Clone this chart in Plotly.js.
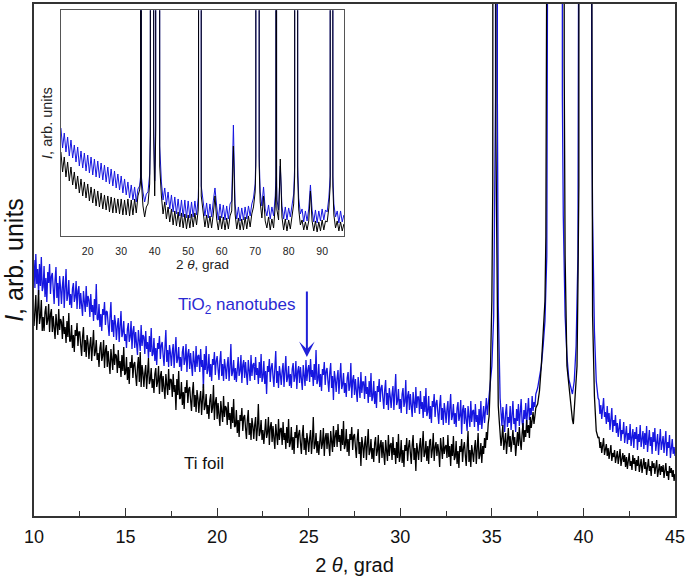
<!DOCTYPE html>
<html>
<head>
<meta charset="utf-8">
<script src="https://cdn.plot.ly/plotly-3.0.1.min.js"></script>
<style>html,body{margin:0;padding:0;background:#fff;}#chart{width:685px;height:585px;}</style>
</head>
<body>
<div id="chart"></div>
<script>
// ---------- main panel: 2θ (deg), background region ----------
const mainX = [
10,10.05,10.1,10.15,10.2,10.25,10.3,10.35,10.4,10.45,
10.5,10.55,10.6,10.65,10.7,10.75,10.8,10.85,10.9,10.95,
11,11.05,11.1,11.15,11.2,11.25,11.3,11.35,11.4,11.45,
11.5,11.55,11.6,11.65,11.7,11.75,11.8,11.85,11.9,11.95,
12,12.05,12.1,12.15,12.2,12.25,12.3,12.35,12.4,12.45,
12.5,12.55,12.6,12.65,12.7,12.75,12.8,12.85,12.9,12.95,
13,13.05,13.1,13.15,13.2,13.25,13.3,13.35,13.4,13.45,
13.5,13.55,13.6,13.65,13.7,13.75,13.8,13.85,13.9,13.95,
14,14.05,14.1,14.15,14.2,14.25,14.3,14.35,14.4,14.45,
14.5,14.55,14.6,14.65,14.7,14.75,14.8,14.85,14.9,14.95,
15,15.05,15.1,15.15,15.2,15.25,15.3,15.35,15.4,15.45,
15.5,15.55,15.6,15.65,15.7,15.75,15.8,15.85,15.9,15.95,
16,16.05,16.1,16.15,16.2,16.25,16.3,16.35,16.4,16.45,
16.5,16.55,16.6,16.65,16.7,16.75,16.8,16.85,16.9,16.95,
17,17.05,17.1,17.15,17.2,17.25,17.3,17.35,17.4,17.45,
17.5,17.55,17.6,17.65,17.7,17.75,17.8,17.85,17.9,17.95,
18,18.05,18.1,18.15,18.2,18.25,18.3,18.35,18.4,18.45,
18.5,18.55,18.6,18.65,18.7,18.75,18.8,18.85,18.9,18.95,
19,19.05,19.1,19.15,19.2,19.25,19.3,19.35,19.4,19.45,
19.5,19.55,19.6,19.65,19.7,19.75,19.8,19.85,19.9,19.95,
20,20.05,20.1,20.15,20.2,20.25,20.3,20.35,20.4,20.45,
20.5,20.55,20.6,20.65,20.7,20.75,20.8,20.85,20.9,20.95,
21,21.05,21.1,21.15,21.2,21.25,21.3,21.35,21.4,21.45,
21.5,21.55,21.6,21.65,21.7,21.75,21.8,21.85,21.9,21.95,
22,22.05,22.1,22.15,22.2,22.25,22.3,22.35,22.4,22.45,
22.5,22.55,22.6,22.65,22.7,22.75,22.8,22.85,22.9,22.95,
23,23.05,23.1,23.15,23.2,23.25,23.3,23.35,23.4,23.45,
23.5,23.55,23.6,23.65,23.7,23.75,23.8,23.85,23.9,23.95,
24,24.05,24.1,24.15,24.2,24.25,24.3,24.35,24.4,24.45,
24.5,24.55,24.6,24.65,24.7,24.75,24.8,24.85,24.9,24.95,
25,25.05,25.1,25.15,25.2,25.25,25.3,25.35,25.4,25.45,
25.5,25.55,25.6,25.65,25.7,25.75,25.8,25.85,25.9,25.95,
26,26.05,26.1,26.15,26.2,26.25,26.3,26.35,26.4,26.45,
26.5,26.55,26.6,26.65,26.7,26.75,26.8,26.85,26.9,26.95,
27,27.05,27.1,27.15,27.2,27.25,27.3,27.35,27.4,27.45,
27.5,27.55,27.6,27.65,27.7,27.75,27.8,27.85,27.9,27.95,
28,28.05,28.1,28.15,28.2,28.25,28.3,28.35,28.4,28.45,
28.5,28.55,28.6,28.65,28.7,28.75,28.8,28.85,28.9,28.95,
29,29.05,29.1,29.15,29.2,29.25,29.3,29.35,29.4,29.45,
29.5,29.55,29.6,29.65,29.7,29.75,29.8,29.85,29.9,29.95,
30,30.05,30.1,30.15,30.2,30.25,30.3,30.35,30.4,30.45,
30.5,30.55,30.6,30.65,30.7,30.75,30.8,30.85,30.9,30.95,
31,31.05,31.1,31.15,31.2,31.25,31.3,31.35,31.4,31.45,
31.5,31.55,31.6,31.65,31.7,31.75,31.8,31.85,31.9,31.95,
32,32.05,32.1,32.15,32.2,32.25,32.3,32.35,32.4,32.45,
32.5,32.55,32.6,32.65,32.7,32.75,32.8,32.85,32.9,32.95,
33,33.05,33.1,33.15,33.2,33.25,33.3,33.35,33.4,33.45,
33.5,33.55,33.6,33.65,33.7,33.75,33.8,33.85,33.9,33.95,
34,34.05,34.1,34.15,34.2,34.25,34.3,34.35,34.4,34.45,
34.5,34.55,34.6,34.65,34.7,34.75,34.8,34.85];

const tio2Base = [
256,228,262,232,247,221,252,230,259,225,
229,250,219,238,214,244,233,252,222,240,
243,226,212,236,249,218,233,210,240,228,
212,230,240,208,226,247,215,221,236,211,
222,208,227,233,214,219,235,207,225,230,
207,223,211,200,225,217,204,230,209,220,
216,199,222,204,211,195,217,201,232,197,
196,212,189,202,185,207,201,214,191,205,
204,191,180,199,214,184,196,179,201,193,
176,190,198,174,187,205,179,183,195,175,
182,168,187,193,174,179,195,167,185,190,
168,184,172,161,186,178,165,191,170,181,
179,162,185,167,174,158,180,164,188,160,
162,178,155,168,151,173,167,180,157,171,
174,161,150,169,186,154,166,149,171,163,
150,164,172,148,161,179,153,157,169,149,
159,145,164,170,151,156,172,144,162,167,
147,163,151,140,165,157,144,170,149,160,
161,144,167,149,156,128,162,146,170,142,
146,162,139,152,135,157,151,164,141,155,
160,147,136,155,165,140,152,135,157,149,
137,151,159,135,148,172,140,144,156,136,
148,134,153,159,140,145,161,133,151,156,
138,154,142,131,156,148,135,161,140,151,
153,136,159,141,148,132,154,138,162,134,
139,155,132,145,122,150,144,157,134,148,
153,140,129,148,165,133,145,128,150,142,
131,145,153,129,142,160,134,138,150,130,
142,128,147,153,134,139,155,127,145,150,
133,149,137,126,151,143,130,156,135,146,
151,134,157,139,146,130,152,136,166,132,
136,152,129,142,125,147,141,154,131,145,
148,135,124,143,153,128,140,116,145,137,
124,138,146,122,135,153,127,131,143,123,
133,119,138,144,125,130,153,118,136,141,
121,137,125,114,139,131,118,144,123,134,
134,117,140,122,129,113,135,119,143,115,
119,135,112,125,108,130,124,137,114,128,
131,118,107,126,136,111,123,106,128,120,
108,122,130,106,119,142,111,115,127,107,
117,103,122,128,109,114,136,102,120,125,
106,122,110,99,124,116,103,129,108,119,
119,102,125,107,114,98,120,104,128,100,
104,120,97,110,93,115,109,122,99,113,
116,103,92,111,121,96,108,91,113,105,
93,107,115,91,104,122,96,100,112,92,
103,89,108,114,95,100,116,82,106,111,
92,108,96,85,110,102,89,115,94,105,
106,89,112,94,101,85,107,91,115,87,
96,110,93,104,118,101,112,122];

const tiBase = [
190,210,221,186,205,226,192,199,216,185,
199,185,204,210,191,196,212,184,202,207,
184,200,188,177,202,194,181,207,186,197,
194,177,200,182,189,173,195,179,203,175,
175,191,168,181,164,186,180,193,170,184,
184,171,160,179,189,164,176,159,181,173,
157,171,179,155,168,186,160,164,176,156,
163,149,168,174,155,160,176,148,166,171,
149,165,153,142,167,159,146,172,151,162,
160,143,166,148,155,139,161,145,169,141,
143,159,136,149,132,154,148,161,138,152,
154,141,130,149,159,134,164,129,151,143,
129,143,151,127,140,158,132,136,148,128,
137,123,142,148,129,134,150,122,140,145,
124,140,128,117,142,134,121,147,126,137,
136,119,142,124,131,106,137,121,145,117,
118,134,111,124,107,129,123,136,113,127,
129,116,105,124,134,109,121,104,126,118,
103,117,125,101,114,132,106,110,122,102,
111,97,116,122,103,108,131,96,114,119,
97,113,101,90,115,107,94,120,99,110,
108,91,114,96,103,87,109,93,117,89,
90,106,83,96,79,101,95,108,85,99,
101,88,77,96,106,81,93,76,98,90,
77,91,99,75,88,112,80,84,96,76,
86,72,91,97,78,83,99,71,89,94,
74,90,78,67,92,84,71,97,76,87,
88,71,94,76,83,67,89,73,97,69,
73,89,66,79,62,84,78,91,68,82,
86,73,62,81,91,66,78,61,83,75,
64,78,86,62,75,99,67,71,83,63,
75,61,80,86,67,72,88,60,78,83,
67,83,71,60,85,77,64,90,69,80,
86,69,92,74,81,65,87,71,95,67,
71,87,64,77,60,82,76,89,66,80,
82,69,58,77,87,62,74,50,79,71,
58,72,80,56,69,87,61,65,77,57,
68,54,73,79,60,65,81,53,71,76,
58,74,62,51,76,68,55,81,60,71,
73,56,79,61,68,52,74,58,82,54,
60,76,53,66,49,71,65,78,55,69,
76,63,52,71,81,56,68,45,73,65,
56,70,78,54,67,85,59,63,75,55,
70,52,75,77,58,66,83,55,69,74,
60,72,64,49,78,66,57,79,62,69,
71,58,81,59,70,50,72,60,80,56,
59,75,52,65,48,70,64,77,54,68,
74,61,50,69,85,54,66,49,71,63,
54,68,76,52,65,83,57,61,73,53,
70,62,78,68,84,76,92,100];

// ---------- main panel: reflections region (peaks run far above the frame) ----------
const tio2PeakX = [34.9,35.0,35.1,35.2,35.25,35.3,35.35,35.4,
35.45,35.5,35.55,35.6,35.65,35.7,35.75,35.8,35.85,35.9,
35.95,36.0,36.05,36.1,36.15,36.2,36.25,36.3,36.35,36.4,
36.45,36.5,36.55,36.6,36.65,36.7,36.75,36.8,36.85,36.9,
36.95,37.0,37.05,37.1,37.15,37.2,37.25,37.3,37.35,37.4,
37.5,37.6,37.7,37.8,37.9,38.0,38.05,38.1,38.8,38.85,38.9,39.0,39.1,39.2,39.3,39.4,39.5,39.6,39.7,39.75,39.8,40.4,40.45,40.5,40.6,40.7,40.8];
const tio2PeakY = [128,150,200,420,6000,420,210,150,
118,104,90,109,96,84,103,112,89,99,
93,110,86,101,115,92,98,84,107,95,
112,90,100,117,94,88,106,97,113,92,
104,118,96,108,101,120,105,114,109,122,
128,138,150,170,195,260,420,6000,6000,420,300,200,160,137,128,122,135,170,260,420,6000,6000,420,300,185,135,118];

const tiPeakX = [34.9,35.0,35.05,35.1,35.18,35.22,35.3,35.35,35.4,
35.45,35.5,35.55,35.6,35.65,35.7,35.75,35.8,35.85,35.9,
35.95,36.0,36.05,36.1,36.15,36.2,36.25,36.3,36.35,36.4,
36.45,36.5,36.55,36.6,36.65,36.7,36.75,36.8,36.85,36.9,
36.95,37.0,37.05,37.1,37.15,37.2,37.25,37.3,37.35,37.4,
37.5,37.6,37.7,37.8,37.9,37.95,38.0,38.05,38.9,38.95,39.0,39.1,39.2,39.3,39.35,39.4,39.45,39.5,39.55,39.6,39.65,39.7,39.75,39.8,40.4,40.45,40.5,40.6,40.7,40.8];
const tiPeakY = [126,216,330,6000,6000,380,160,110,96,
84,70,79,91,66,75,83,62,77,88,
69,80,64,74,86,71,79,60,76,84,
70,89,75,66,82,93,74,86,79,96,
83,91,78,99,88,95,104,92,101,108,
112,125,150,183,215,280,440,6000,6000,450,260,150,130,118,105,96,92,108,116,140,150,230,330,6000,6000,330,200,120,85,78];

const tailX = [
40.85,40.9,40.95,41,41.05,41.1,41.15,41.2,41.25,41.3,
41.35,41.4,41.45,41.5,41.55,41.6,41.65,41.7,41.75,41.8,
41.85,41.9,41.95,42,42.05,42.1,42.15,42.2,42.25,42.3,
42.35,42.4,42.45,42.5,42.55,42.6,42.65,42.7,42.75,42.8,
42.85,42.9,42.95,43,43.05,43.1,43.15,43.2,43.25,43.3,
43.35,43.4,43.45,43.5,43.55,43.6,43.65,43.7,43.75,43.8,
43.85,43.9,43.95,44,44.05,44.1,44.15,44.2,44.25,44.3,
44.35,44.4,44.45,44.5,44.55,44.6,44.65,44.7,44.75,44.8,
44.85,44.9,44.95,45];
const tio2Tail = [
116,102,111,97,106,118,99,104,92,110,
94,103,86,99,108,84,96,90,101,83,
93,79,88,97,75,86,82,94,73,87,
90,72,83,76,92,70,81,87,68,84,
77,89,66,82,74,91,69,80,85,67,
83,71,90,64,78,86,70,79,62,84,
74,88,65,77,82,61,73,87,66,76,
80,63,72,85,60,74,68,81,58,71,
77,62,69,60];
const tiTail = [
79,68,74,63,70,78,61,67,72,60,
68,57,64,71,55,63,59,66,53,62,
65,52,60,67,50,58,63,54,61,49,
59,47,57,63,50,55,46,61,52,58,
45,56,50,60,44,53,57,43,51,58,
47,54,41,52,57,45,50,40,55,48,
53,42,49,56,39,47,52,41,50,44,
51,38,47,53,40,45,36,50,43,48,
39,46,35,42];

// ---------- inset: full scan ----------
const insetX = [12,12.5,13,13.5,14,14.5,15,15.5,16,16.5,17,17.5,18,18.5,19,19.5,20,20.5,21,21.5,22,22.5,23,23.5,24,24.5,25,25.5,26,26.5,27,27.5,28,28.5,29,29.5,30,30.5,31,31.5,32,32.5,33,33.5,34,34.5,35,35.5,
35.8,35.9,36.0,
36.5,37,37.5,38,38.5,
38.7,38.8,39.6,39.7,
40.0,40.3,40.5,41.3,41.5,
42,42.5,43,43.5,44,44.5,45,45.5,46,46.5,47,47.5,48,48.5,49,49.5,50,50.5,51,51.5,52,52.5,53,
53.1,53.2,53.8,53.9,
54.5,55,55.5,56,56.5,57,57.5,58,58.5,59,59.5,60,60.5,61,61.5,62,62.5,63,63.5,64,64.5,65,65.5,66,66.5,67,67.5,68,68.5,69,69.5,70,
70.2,70.3,71.1,71.2,
71.5,72,72.5,73,73.5,74,74.5,75,75.5,76,
76.2,76.3,76.4,
76.5,77,77.5,78,78.5,79,79.5,80,80.5,81,81.5,
81.8,81.9,82.6,82.7,
83,83.5,84,84.5,85,85.5,86,86.5,87,87.5,88,88.5,89,89.5,90,90.5,91,91.5,92,
92.4,92.5,93.1,93.2,
93.5,94,94.5,95,95.5,96,96.5];
const insetTio2 = [108,88,103,84,99,80,96,78,91,74,89,70,85,68,83,65,81,63,79,61,77,59,75,58,73,56,71,54,69,52,67,50,65,48,62,46,60,43,57,41,54,38,51,36,49,34,47,50,
60,6000,60,
44,34,42,44,62,
110,6000,6000,110,
55,110,6000,6000,90,
54,36,48,31,44,27,41,24,39,22,37,20,36,19,36,18,35,18,34,19,35,21,38,
50,6000,6000,50,
36,20,33,18,32,19,35,48,30,16,32,18,31,16,30,17,32,35,111,32,17,29,15,28,16,29,17,30,20,32,38,52,
80,6000,6000,80,
44,30,49,27,20,31,17,29,20,40,
60,6000,60,
36,26,70,30,17,29,16,28,19,32,42,
70,6000,6000,70,
38,22,27,14,25,15,27,51,26,14,26,13,25,15,27,16,26,24,38,
60,6000,6000,60,
32,19,25,13,25,14,21];
const insetTi = [84,64,79,59,74,55,69,51,64,47,60,43,57,40,54,38,52,35,49,33,47,30,45,29,43,27,41,26,40,24,39,23,38,23,37,22,37,21,36,21,37,20,36,21,37,23,40,46,
55,6000,55,
30,19,29,32,52,
100,6000,6000,100,
40,100,6000,6000,70,
40,22,34,17,29,14,27,11,25,10,24,9,23,8,22,7,21,8,22,9,23,11,26,
40,6000,6000,40,
24,9,21,8,20,8,22,40,17,6,20,7,19,6,18,7,20,25,90,22,7,18,6,17,6,19,7,20,9,22,29,44,
70,6000,6000,70,
34,18,40,15,8,19,6,17,8,30,
50,6000,50,
26,16,77,19,6,17,5,16,7,21,32,
60,6000,6000,60,
27,11,16,6,14,6,15,45,15,5,15,4,14,5,16,6,15,14,28,
50,6000,6000,50,
21,8,15,5,14,5,12];

const mainTicks = [10,15,20,25,30,35,40,45];
const insetTicks = [20,30,40,50,60,70,80,90];

const BLUE = '#1616e0';
const BLACK = '#000000';
const FONT = 'Liberation Sans, Arial, Helvetica, sans-serif';

const traces = [
  {x: mainX.concat(tio2PeakX, tailX), y: tio2Base.concat(tio2PeakY, tio2Tail),
   type:'scatter', mode:'lines', line:{color:BLUE, width:1.3}, xaxis:'x', yaxis:'y', hoverinfo:'skip'},
  {x: mainX.concat(tiPeakX, tailX), y: tiBase.concat(tiPeakY, tiTail),
   type:'scatter', mode:'lines', line:{color:BLACK, width:1.3}, xaxis:'x', yaxis:'y', hoverinfo:'skip'},
  {x: insetX, y: insetTio2, type:'scatter', mode:'lines', line:{color:BLUE, width:1}, xaxis:'x2', yaxis:'y2', hoverinfo:'skip'},
  {x: insetX, y: insetTi, type:'scatter', mode:'lines', line:{color:BLACK, width:1}, xaxis:'x2', yaxis:'y2', hoverinfo:'skip'}
];

const layout = {
  width:685, height:585,
  margin:{l:34, r:10, t:4, b:69},
  paper_bgcolor:'#ffffff', plot_bgcolor:'#ffffff',
  showlegend:false,
  font:{family:FONT, color:'#111'},
  xaxis:{range:[10,45], tickvals:mainTicks, ticks:'inside', ticklen:8, tickwidth:1, tickcolor:'#333',
         minor:{dtick:2.5, tick0:10, ticks:'inside', ticklen:5, tickcolor:'#333', showgrid:false},
         showline:true, mirror:true, linecolor:'#333', linewidth:1.6, showgrid:false, zeroline:false,
         ticklabeloverflow:'allow',
         tickfont:{size:18, family:FONT, color:'#111'}, ticklabelstandoff:4,
         title:{text:'2 <i>θ</i>, grad', font:{size:20, family:FONT, color:'#111'}, standoff:12}},
  yaxis:{range:[0,512], showticklabels:false, ticks:'', showline:true, mirror:true, linecolor:'#333', linewidth:1.6,
         showgrid:false, zeroline:false,
         title:{text:'<i>I</i>, arb. units', font:{size:25, family:FONT, color:'#111'}, standoff:2}},
  xaxis2:{domain:[0.042,0.484], anchor:'y2', range:[12,96.6], tickvals:insetTicks, ticks:'',
          showline:true, mirror:true, linecolor:'#555', linewidth:1, showgrid:false, zeroline:false,
          tickfont:{size:10.5, family:FONT, color:'#222'}, ticklabelstandoff:5,
          title:{text:'2 <i>θ</i>, grad', font:{size:13.5, family:FONT, color:'#222'}, standoff:3}},
  yaxis2:{domain:[0.547,0.988], anchor:'x2', range:[0,226], showticklabels:false, ticks:'',
          showline:true, mirror:true, linecolor:'#555', linewidth:1, showgrid:false, zeroline:false,
          title:{text:'<i>I</i>, arb. units', font:{size:14.5, family:FONT, color:'#222'}, standoff:3}},
  annotations:[
    {xref:'x', yref:'y', x:21.1, y:210, text:'TiO<sub>2</sub> nanotubes', showarrow:false,
     font:{size:17, family:FONT, color:'#2a2ad2'}, xanchor:'center', yanchor:'middle'},
    {xref:'x', yref:'y', x:24.9, y:159, text:'', showarrow:true, ax:0, ay:-67,
     arrowcolor:'#2020d8', arrowwidth:2, arrowhead:3, arrowsize:1.3},
    {xref:'x', yref:'y', x:19.3, y:53, text:'Ti foil', showarrow:false,
     font:{size:17, family:FONT, color:'#111'}, xanchor:'center', yanchor:'middle'}
  ]
};

Plotly.newPlot('chart', traces, layout, {staticPlot:true, displayModeBar:false});
</script>
</body>
</html>
